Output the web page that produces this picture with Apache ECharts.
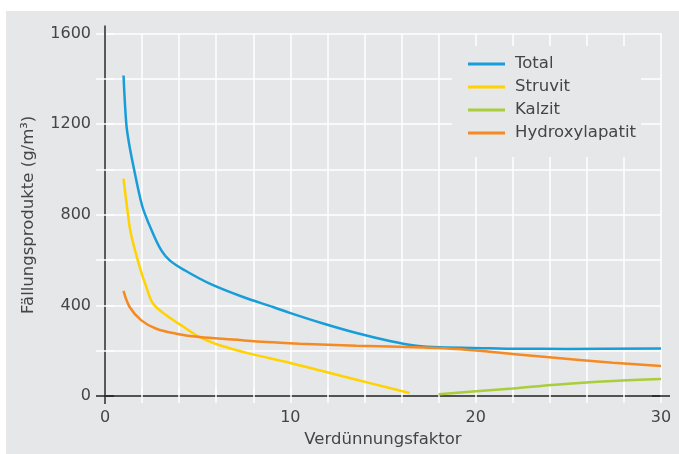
<!DOCTYPE html>
<html>
<head>
<meta charset="utf-8">
<script src="https://cdn.jsdelivr.net/npm/echarts@6/dist/echarts.min.js"></script>
<style>
  html, body { margin: 0; padding: 0; background: #ffffff; }
  #chart { position: absolute; left: 6px; top: 11px; width: 673px; height: 443px; background: #e6e7e8; }
</style>
</head>
<body>
<div id="chart"></div>
<script>
// ---- data ----
const seriesNames = ['Total', 'Struvit', 'Kalzit', 'Hydroxylapatit'];
const seriesColors = ['#179dd9', '#ffd200', '#a9cd3c', '#f58a23'];

const totalX = [1.0, 1.15, 1.3, 1.57, 1.91, 2.1, 2.59, 3.04, 3.49, 4.3, 5.65, 7.45, 9.07, 9.97, 11.77, 13.57, 15.36, 16.8, 18.06, 20.76, 22, 25, 30];
const totalY = [1415, 1200, 1114, 1000, 870, 815, 717, 643, 599, 555, 496, 437, 393, 367, 320, 278, 243, 222, 215, 211, 209, 208, 210];

const struvitX = [1.0, 1.21, 1.39, 1.87, 2.23, 2.59, 3.31, 4.12, 5.11, 6.19, 7.81, 10.0, 11.77, 13.57, 15.36, 16.44];
const struvitY = [960, 820, 720, 570, 481, 408, 356, 312, 260, 224, 187, 146, 109, 72, 35, 13];

const kalzitX = [18.0, 20.2, 22.0, 24.3, 27.4, 30.0];
const kalzitY = [8, 22, 33, 50, 66, 75];

const hydroxyX = [1.0, 1.33, 1.96, 2.77, 3.85, 5.11, 6.9, 8.7, 10.5, 13.57, 17.16, 18.96, 20.76, 23.82, 27.4, 30.0];
const hydroxyY = [464, 393, 334, 297, 275, 260, 249, 238, 231, 222, 214, 208, 195, 172, 147, 132];

const xLabelValues = [0, 10, 20, 30];
const yLabelValues = [0, 400, 800, 1200, 1600];
const xGridValues = [2, 4, 6, 8, 10, 12, 14, 16, 18, 20, 22, 24, 26, 28, 30];
const yGridValues = [200, 400, 600, 800, 1000, 1200, 1400, 1600];

const xTitle = 'Verdünnungsfaktor';
const yTitle = 'Fällungsprodukte (g/m³)';

// ---- chart ----
const FONT = 'DejaVu Sans';
const TEXT = '#454545';
const pairs = (xs, ys) => xs.map((x, i) => [x, ys[i]]);
const seriesData = [pairs(totalX, totalY), pairs(struvitX, struvitY), pairs(kalzitX, kalzitY), pairs(hydroxyX, hydroxyY)];
const plain = v => String(v);

const chart = echarts.init(document.getElementById('chart'), null, { renderer: 'canvas' });
const whiteLine = { color: '#ffffff', width: 1.5 };

chart.setOption({
  animation: false,
  backgroundColor: 'transparent',
  grid: { left: 99, right: 18, top: 22.6, bottom: 58 },
  legend: {
    orient: 'vertical',
    left: 446, top: 35,
    icon: 'rect',
    itemWidth: 37, itemHeight: 3,
    itemGap: 5,
    backgroundColor: '#e6e7e8',
    padding: [9, 5, 15, 16],
    textStyle: { fontFamily: FONT, fontSize: 16.5, color: TEXT, lineHeight: 18, padding: [0, 0, 0, 5] },
    data: seriesNames
  },
  xAxis: [{
    type: 'value', min: 0, max: 30, interval: 2, position: 'bottom',
    axisLine: { show: true, lineStyle: { color: '#222222', width: 1.5 }, symbol: ['rect', 'rect'], symbolSize: [1.5, 18] },
    axisTick: { show: true, length: 7, lineStyle: whiteLine, customValues: xGridValues },
    axisLabel: { customValues: xLabelValues, formatter: plain, margin: 14, fontFamily: FONT, fontSize: 16, color: TEXT },
    splitLine: { show: true, lineStyle: whiteLine },
    name: xTitle, nameLocation: 'middle', nameGap: 34,
    nameTextStyle: { fontFamily: FONT, fontSize: 16.5, color: TEXT }
  }, {
    type: 'value', min: 0, max: 30, interval: 2, position: 'top',
    axisLine: { show: false },
    axisTick: { show: true, length: 8, lineStyle: whiteLine, customValues: xGridValues },
    axisLabel: { show: false },
    splitLine: { show: false }
  }],
  yAxis: [{
    type: 'value', min: 0, max: 1600, interval: 200, position: 'left',
    axisLine: { show: true, lineStyle: { color: '#5a5a5a', width: 2 }, symbol: ['rect', 'rect'], symbolSize: [2, 16] },
    axisTick: { show: true, length: 9, lineStyle: whiteLine, customValues: yGridValues },
    axisLabel: { customValues: yLabelValues, formatter: plain, margin: 14, fontFamily: FONT, fontSize: 16, color: TEXT },
    splitLine: { show: true, lineStyle: whiteLine },
    name: yTitle, nameLocation: 'middle', nameGap: 68,
    nameTextStyle: { fontFamily: FONT, fontSize: 16.5, color: TEXT }
  }, {
    type: 'value', min: 0, max: 1600, interval: 200, position: 'right',
    axisLine: { show: false },
    axisTick: { show: true, length: 9, lineStyle: whiteLine, customValues: yGridValues },
    axisLabel: { show: false },
    splitLine: { show: false }
  }],
  series: seriesNames.map((name, i) => ({
    name: name,
    type: 'line',
    xAxisIndex: 0, yAxisIndex: 0,
    data: seriesData[i],
    showSymbol: false,
    smooth: 0.35,
    color: seriesColors[i],
    lineStyle: { width: 2.5, color: seriesColors[i] },
    z: 3
  }))
});
</script>
</body>
</html>
